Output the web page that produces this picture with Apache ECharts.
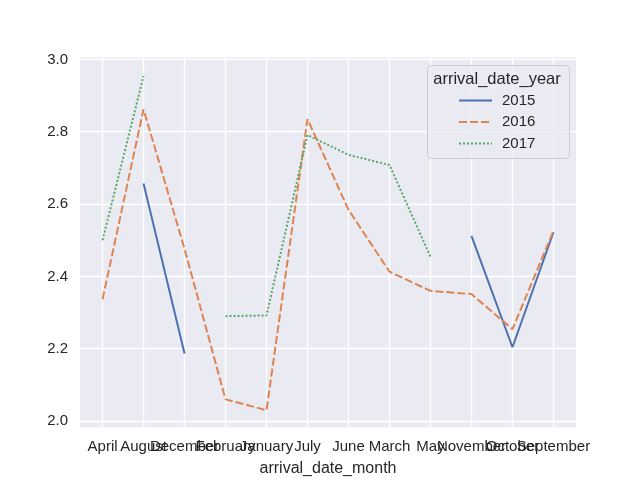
<!DOCTYPE html>
<html>
<head>
<meta charset="utf-8">
<script src="https://cdn.jsdelivr.net/npm/echarts@6/dist/echarts.min.js"></script>
<style>html,body{margin:0;padding:0;background:#fff}#c{width:640px;height:480px}</style>
</head>
<body>
<div id="c"></div>
<script>
const categories = ['April','August','December','February','January','July','June','March','May','November','October','September'];
const years = ['2015','2016','2017'];
const y2015 = [null, 2.657, 2.187, null, null, null, null, null, null, 2.512, 2.204, 2.522];
const y2016 = [2.337, 2.862, 2.476, 2.060, 2.030, 2.835, 2.584, 2.413, 2.360, 2.351, 2.254, 2.526];
const y2017 = [2.500, 2.954, null, 2.290, 2.292, 2.791, 2.736, 2.708, 2.454, null, null, null];
const yTicks = [2.0, 2.2, 2.4, 2.6, 2.8, 3.0];
const xTicks = categories.map((c, i) => i);

const font = '"Liberation Sans", Arial, sans-serif';
const colors = ['#4c72b0', '#dd8452', '#55a868'];
const dashes = ['solid', [8, 3], [2, 2]];
const values = [y2015, y2016, y2017];
const xMin = -0.55, xMax = 11.55;
// blank guard labels at both ends so that no month label is treated as first/last
const xLabelValues = [xMin].concat(xTicks, [xMax]);

const chart = echarts.init(document.getElementById('c'), null, {renderer: 'canvas'});
chart.setOption({
  animation: false,
  backgroundColor: '#ffffff',
  textStyle: {fontFamily: font},
  grid: {left: 80, right: 64, top: 57.6, bottom: 52.8, show: true, backgroundColor: '#eaeaf2', borderWidth: 0, outerBoundsMode: 'none', containLabel: false},
  xAxis: {
    type: 'value', min: xMin, max: xMax,
    name: 'arrival_date_month', nameLocation: 'middle', nameGap: 33,
    nameTextStyle: {fontSize: 16, color: '#262626', fontFamily: font},
    axisLine: {show: false},
    axisTick: {show: false, customValues: xTicks},
    axisLabel: {customValues: xLabelValues, formatter: v => (Number.isInteger(v) && categories[v]) ? categories[v] : ' ', fontSize: 15, color: '#262626', margin: 12, fontFamily: font, hideOverlap: false},
    splitLine: {show: true, lineStyle: {color: '#ffffff', width: 1.3}}
  },
  yAxis: {
    type: 'value', min: 1.983, max: 3.005,
    axisLine: {show: false},
    axisTick: {show: false, customValues: yTicks},
    axisLabel: {customValues: yTicks, formatter: v => v.toFixed(1), fontSize: 15, color: '#262626', margin: 12, fontFamily: font, hideOverlap: false},
    splitLine: {show: true, lineStyle: {color: '#ffffff', width: 1.3}}
  },
  legend: {
    data: years, orient: 'vertical', left: 458, top: 93, padding: 0, itemWidth: 33, itemHeight: 15, itemGap: 6.5,
    itemStyle: {opacity: 0},
    textStyle: {fontSize: 15, color: '#262626', fontFamily: font, padding: [0, 0, 0, 5]}, z: 30
  },
  graphic: [
    {type: 'rect', z: 20, shape: {x: 427.5, y: 65.5, width: 142, height: 93, r: 4}, style: {fill: 'rgba(234,234,242,0.8)', stroke: '#cccccc', lineWidth: 1}},
    {type: 'text', z: 21, x: 497, y: 79, style: {text: 'arrival_date_year', fill: '#262626', font: '16.5px "Liberation Sans", Arial, sans-serif', align: 'center', verticalAlign: 'middle'}}
  ],
  series: years.map((yr, k) => ({
    name: yr, type: 'line', showSymbol: false, symbol: 'none',
    data: values[k].map((v, i) => [i, v]),
    lineStyle: {color: colors[k], width: 2, type: dashes[k]},
    itemStyle: {color: colors[k]},
    z: 3
  }))
});
</script>
</body>
</html>
